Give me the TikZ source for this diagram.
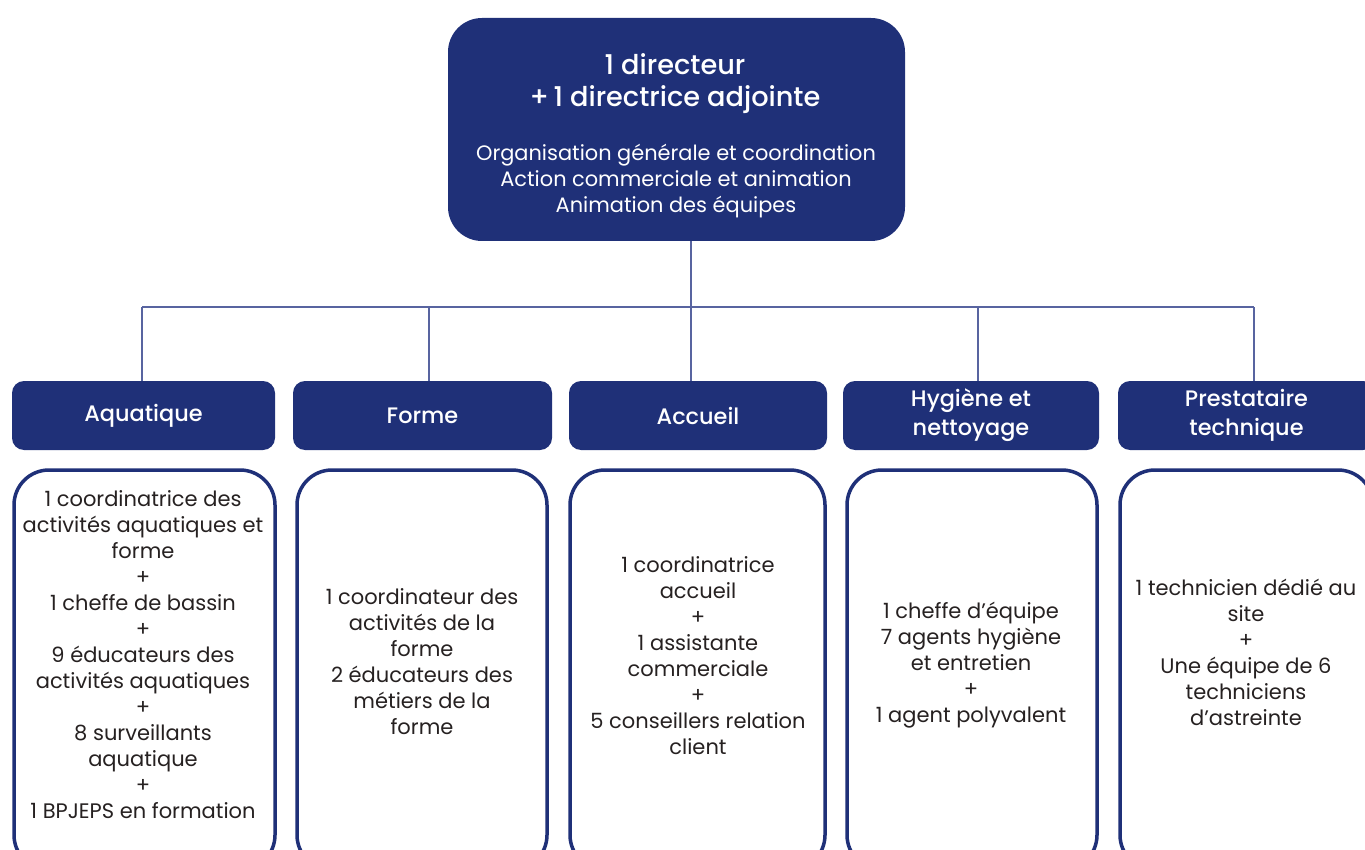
\documentclass[tikz,border=0pt]{standalone}
\usepackage{fontspec}
\setmainfont{Poppins}
\newfontfamily\headfont{Poppins Medium}
\usetikzlibrary{positioning}

\definecolor{navy}{RGB}{31,48,120}
\definecolor{linkcol}{RGB}{88,100,160}
\definecolor{bodytxt}{RGB}{38,33,33}

\tikzset{
  dirbox/.style={fill=navy, draw=none, rounded corners=17pt, minimum width=228.5pt, minimum height=111.5pt, inner sep=0pt},
  headbox/.style={fill=navy, draw=none, rounded corners=6pt, minimum height=34.5pt, inner sep=0pt, text=white, align=center, font=\headfont\fontsize{11.2}{14.5}\selectfont},
  teambox/.style={draw=navy, line width=1.75pt, fill=white, rounded corners=17.5pt, minimum height=200pt, inner sep=0pt},
  teamtext/.style={text=bodytxt, align=center, inner sep=0pt, font=\fontsize{10.5}{13}\selectfont},
  link/.style={draw=linkcol, line width=0.6pt}
}

\begin{document}
\begin{tikzpicture}[x=0.5pt, y=-0.5pt]
            \useasboundingbox (0,0) rectangle (1365,850);
            \clip (0,0) rectangle (1365,850);

            % direction
            \node[dirbox] (dir) at (676.5,129.5) {};
            \node[text=white, align=center, inner sep=0pt, font=\headfont\fontsize{13.6}{16}\selectfont] (dirtitle) at (675,84) {1 directeur\\+\,1 directrice adjointe};
            \node[text=white, align=center, inner sep=0pt, font=\fontsize{10.45}{13}\selectfont] (dirtasks) at (676,181.5) {Organisation générale et coordination\\Action commerciale et animation\\Animation des équipes};

            % services
            \node[headbox, minimum width=131.5pt] (aq) at (143.5,415.5) {Aquatique};
            \node[headbox, minimum width=129.5pt] (fo) at (422.5,415.5) {Forme};
            \node[headbox, minimum width=129pt] (ac) at (698,415.5) {Accueil};
            \node[headbox, minimum width=128pt] (hy) at (971,415.5) {Hygiène et\\nettoyage};
            \node[headbox, minimum width=128.5pt] (pr) at (1246.5,415.5) {Prestataire\\technique};

            % links
            \coordinate (jAq) at (142,307);
            \coordinate (jFo) at (429,307);
            \coordinate (jAc) at (691,307);
            \coordinate (jHy) at (978,307);
            \coordinate (jPr) at (1254,307);

            \draw[link] (dir.south -| jAc) -- (jAc);
            \draw[link] (jAq) -- (jPr);
            \draw[link] (jAq) -- (jAq |- aq.north);
            \draw[link] (jFo) -- (jFo |- fo.north);
            \draw[link] (jAc) -- (jAc |- ac.north);
            \draw[link] (jHy) -- (jHy |- hy.north);
            \draw[link] (jPr) -- (jPr |- pr.north);

            % teams
            \node[teambox, minimum width=130.5pt] (aqT) at (144.5,670) {};
            \node[teambox, minimum width=125pt] (foT) at (422,670) {};
            \node[teambox, minimum width=127.5pt] (acT) at (697.5,670) {};
            \node[teambox, minimum width=125pt] (hyT) at (972,670) {};
            \node[teambox, minimum width=126.5pt] (prT) at (1246.5,670) {};

            \node[teamtext] (aqL) at (143,655) {1 coordinatrice des\\activités aquatiques et\\forme\\+\\1 cheffe de bassin\\+\\9 éducateurs des\\activités aquatiques\\+\\8 surveillants\\aquatique\\+\\1 BPJEPS en formation};
            \node[teamtext] (foL) at (422,662) {1 coordinateur des\\activités de la\\forme\\2 éducateurs des\\métiers de la\\forme};
            \node[teamtext] (acL) at (698,656) {1 coordinatrice\\accueil\\+\\1 assistante\\commerciale\\+\\5 conseillers relation\\client};
            \node[teamtext] (hyL) at (971,665) {1 cheffe d’équipe\\7 agents hygiène\\et entretien\\+\\1 agent polyvalent};
            \node[teamtext] (prL) at (1246,652) {1 technicien dédié au\\site\\+\\Une équipe de 6\\techniciens\\d’astreinte};

\end{tikzpicture}
\end{document}
